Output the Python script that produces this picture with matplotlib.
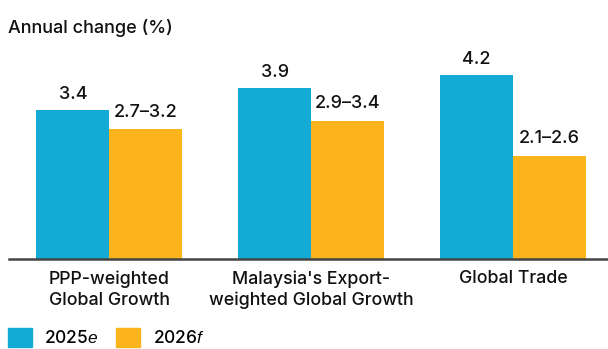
import matplotlib.pyplot as plt
from matplotlib.patches import Patch
import numpy as np

plt.rcParams['font.family'] = ['Inter', 'DejaVu Sans']
plt.rcParams['font.weight'] = 'medium'
plt.rcParams['mathtext.fontset'] = 'custom'
plt.rcParams['mathtext.rm'] = 'Inter'
plt.rcParams['mathtext.it'] = 'Liberation Sans:italic'

categories = ['PPP-weighted\nGlobal Growth',
              "Malaysia's Export-\nweighted Global Growth",
              'Global Trade']
est_2025 = [3.4, 3.9, 4.2]
fc_2026_low = [2.7, 2.9, 2.1]
fc_2026_high = [3.2, 3.4, 2.6]
series_names = ['2025$\\mathit{e}$', '2026$\\mathit{f}$']

blue = '#13abd6'
orange = '#fbb41c'

# forecast bars drawn at the middle of each range
fc_2026_mid = [(lo + hi) / 2 for lo, hi in zip(fc_2026_low, fc_2026_high)]
fc_labels = [f'{lo:.1f}\u2013{hi:.1f}' for lo, hi in zip(fc_2026_low, fc_2026_high)]

fig = plt.figure(figsize=(6.08, 3.49), dpi=100)
ax = fig.add_axes([8.5 / 608, 90 / 349, 1 - 8.5 / 608, 209 / 349])

x = np.arange(len(categories))
w = 0.362
b1 = ax.bar(x - w / 2, est_2025, w, color=blue)
b2 = ax.bar(x + w / 2, fc_2026_mid, w, color=orange)

for rect, v in zip(b1, est_2025):
    ax.annotate(f'{v:.1f}', (rect.get_x() + rect.get_width() / 2, rect.get_height()),
                xytext=(0, 5), textcoords='offset points', ha='center', va='bottom',
                fontsize=13, color='#111111')
for rect, lab in zip(b2, fc_labels):
    ax.annotate(lab, (rect.get_x() + rect.get_width() / 2, rect.get_height()),
                xytext=(0, 6), textcoords='offset points', ha='center', va='bottom',
                fontsize=13, color='#111111')

ax.set_xlim(-0.5, 2.47)
ax.set_ylim(0, 4.76)
ax.set_xticks(x)
ax.set_xticklabels(categories, fontsize=12.8, color='#111111', linespacing=1.3)
ax.tick_params(axis='x', length=0, pad=8)
ax.set_yticks([])
for s in ['top', 'right', 'left']:
    ax.spines[s].set_visible(False)
ax.spines['bottom'].set_color('#444444')
ax.spines['bottom'].set_linewidth(1.8)

fig.text(8 / 608, 1 - 28 / 349, 'Annual change (%)', fontsize=13, color='#111111',
         ha='left', va='center')

handles = [Patch(color=blue), Patch(color=orange)]
fig.legend(handles, series_names, loc='upper left', bbox_to_anchor=(8 / 608, 1 - 328 / 349),
           ncol=2, frameon=False, fontsize=12.5, borderpad=0, borderaxespad=0,
           handlelength=1.4, handleheight=1.3, handletextpad=0.7, columnspacing=1.0)

fig.savefig('out.png', dpi=100)
